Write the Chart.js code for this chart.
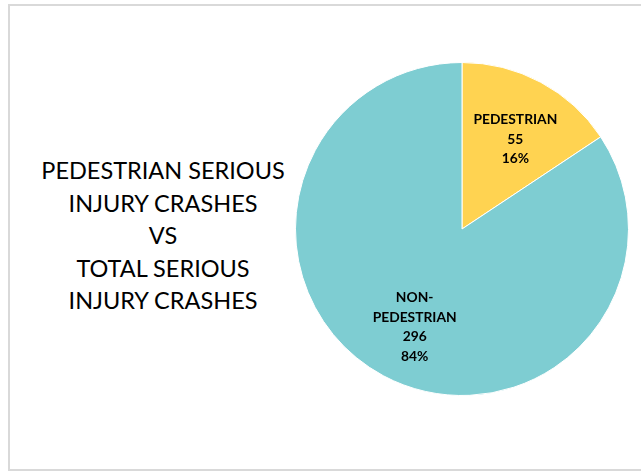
<!DOCTYPE html>
<html>
<head>
<meta charset="utf-8">
<script src="https://cdn.jsdelivr.net/npm/chart.js@4"></script>
<style>
  html, body { margin: 0; padding: 0; background: #fff; }
  #frame {
    position: absolute; left: 0; top: 0; width: 641px; height: 471px; overflow: hidden;
  }
  #border {
    position: absolute; left: 8px; top: 4px; width: 650px; height: 467px;
    border: 2px solid #d9d9d9; box-sizing: border-box;
  }
  #title {
    position: absolute; left: 23px; width: 280px; top: 154px;
    text-align: center; font-family: Lato, "Open Sans", sans-serif;
    font-size: 23.5px; line-height: 32.5px; color: #000;
  }
  #pieBox { position: absolute; left: 295px; top: 62px; width: 334px; height: 334px; }
</style>
</head>
<body>
<div id="frame">
  <div id="border"></div>
  <div id="title">PEDESTRIAN SERIOUS<br>INJURY CRASHES<br>VS<br>TOTAL SERIOUS<br>INJURY CRASHES</div>
  <div id="pieBox"><canvas id="pie"></canvas></div>
</div>
<script>
  // slice data
  const categories = ['PEDESTRIAN', 'NON-PEDESTRIAN'];
  const crashCounts = [55, 296];
  const sliceColors = ['#FFD351', '#7ECDD2'];

  // draws the "name / count / percent" block inside each slice
  const sliceLabels = {
    id: 'sliceLabels',
    afterDatasetsDraw(chart) {
      const ctx = chart.ctx;
      const meta = chart.getDatasetMeta(0);
      const total = crashCounts.reduce((a, b) => a + b, 0);
      ctx.save();
      ctx.fillStyle = '#000';
      ctx.font = 'bold 13.8px Lato, "Open Sans", sans-serif';
      ctx.textAlign = 'center';
      ctx.textBaseline = 'middle';
      meta.data.forEach((arc, i) => {
        const p = arc.getProps(['x', 'y', 'startAngle', 'endAngle', 'outerRadius'], true);
        const mid = (p.startAngle + p.endAngle) / 2;
        const d = p.outerRadius * 0.64;
        const cx = p.x + Math.cos(mid) * d + 3;
        const cy = p.y + Math.sin(mid) * d + 4;
        const name = categories[i];
        const cut = name.indexOf('-');
        const nameLines = cut > 0 ? [name.slice(0, cut + 1), name.slice(cut + 1)] : [name];
        const lines = nameLines.concat([String(crashCounts[i]), Math.round(crashCounts[i] / total * 100) + '%']);
        const lh = 19.5;
        const top = cy - (lines.length - 1) * lh / 2;
        lines.forEach((t, k) => ctx.fillText(t, cx, top + k * lh));
      });
      ctx.restore();
    }
  };

  new Chart(document.getElementById('pie'), {
    type: 'pie',
    data: {
      labels: categories,
      datasets: [{
        data: crashCounts,
        backgroundColor: sliceColors,
        borderColor: '#ffffff',
        borderWidth: 1
      }]
    },
    options: {
      responsive: true,
      maintainAspectRatio: false,
      animation: false,
      layout: { padding: 0 },
      plugins: {
        legend: { display: false },
        tooltip: { enabled: false }
      }
    },
    plugins: [sliceLabels]
  });
</script>
</body>
</html>
